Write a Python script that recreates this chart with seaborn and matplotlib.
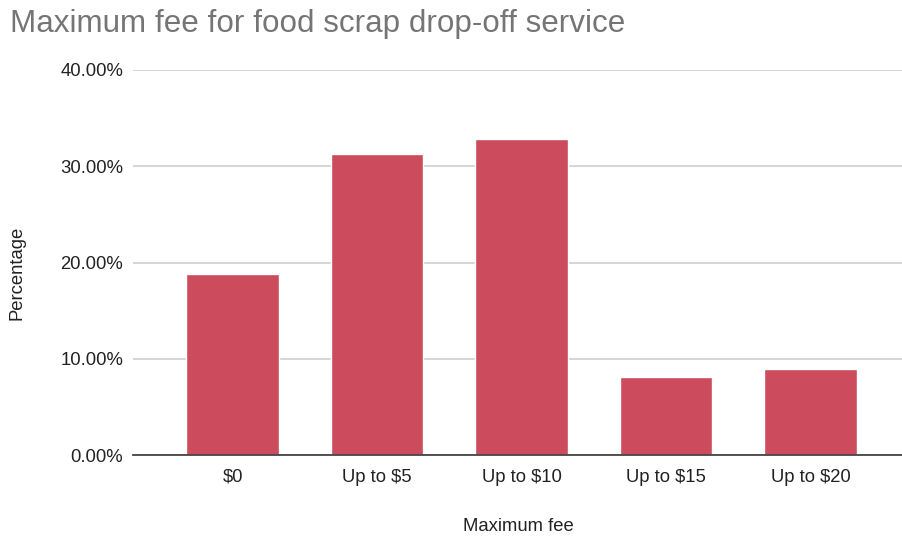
import matplotlib
matplotlib.use("Agg")
import matplotlib.pyplot as plt
import seaborn as sns
import pandas as pd
from matplotlib.ticker import PercentFormatter

categories = ["$0", "Up to $5", "Up to $10", "Up to $15", "Up to $20"]
percentages = [18.8, 31.3, 32.8, 8.1, 8.9]
y_ticks = [0, 10, 20, 30, 40]

title = "Maximum fee for food scrap drop-off service"
x_label = "Maximum fee"
y_label = "Percentage"

sns.set_theme(style="white")
plt.rcParams["font.family"] = ["Liberation Sans", "DejaVu Sans"]

df = pd.DataFrame({"cat": categories, "pct": percentages})

fig = plt.figure(figsize=(9.03, 5.36), dpi=100)
W, H = 903, 536
ax = fig.add_axes([133 / W, (H - 455) / H, (903 - 133) / W, (455 - 70) / H])

sns.barplot(data=df, x="cat", y="pct", color="#CC4B5D", width=0.64,
            saturation=1, ax=ax, zorder=3)

ax.set_ylim(0, 40)
ax.set_xlim(-0.69, 4.64)
ax.set_yticks(y_ticks)
ax.yaxis.set_major_formatter(PercentFormatter(decimals=2))
ax.grid(axis="y", color="#d0d0d0", linewidth=1.2, zorder=0)
ax.set_axisbelow(True)
for s in ["top", "right", "left"]:
    ax.spines[s].set_visible(False)
ax.spines["bottom"].set_color("#444444")
ax.spines["bottom"].set_linewidth(1.3)
ax.spines["bottom"].set_zorder(4)

ax.tick_params(axis="y", length=0, pad=7, labelsize=13.3, labelcolor="#222222")
ax.tick_params(axis="x", length=0, pad=10, labelsize=13.3, labelcolor="#222222")

ax.set_xlabel(x_label, fontsize=13.3, color="#222222", labelpad=23)
ax.set_ylabel(y_label, fontsize=13.3, color="#222222")
ax.yaxis.set_label_coords(-0.139, 0.474)

fig.text(10 / W, 1 - 32 / H, title, fontsize=22.6, color="#757575",
         ha="left", va="baseline")

fig.savefig("out.png", dpi=100, facecolor="white")
